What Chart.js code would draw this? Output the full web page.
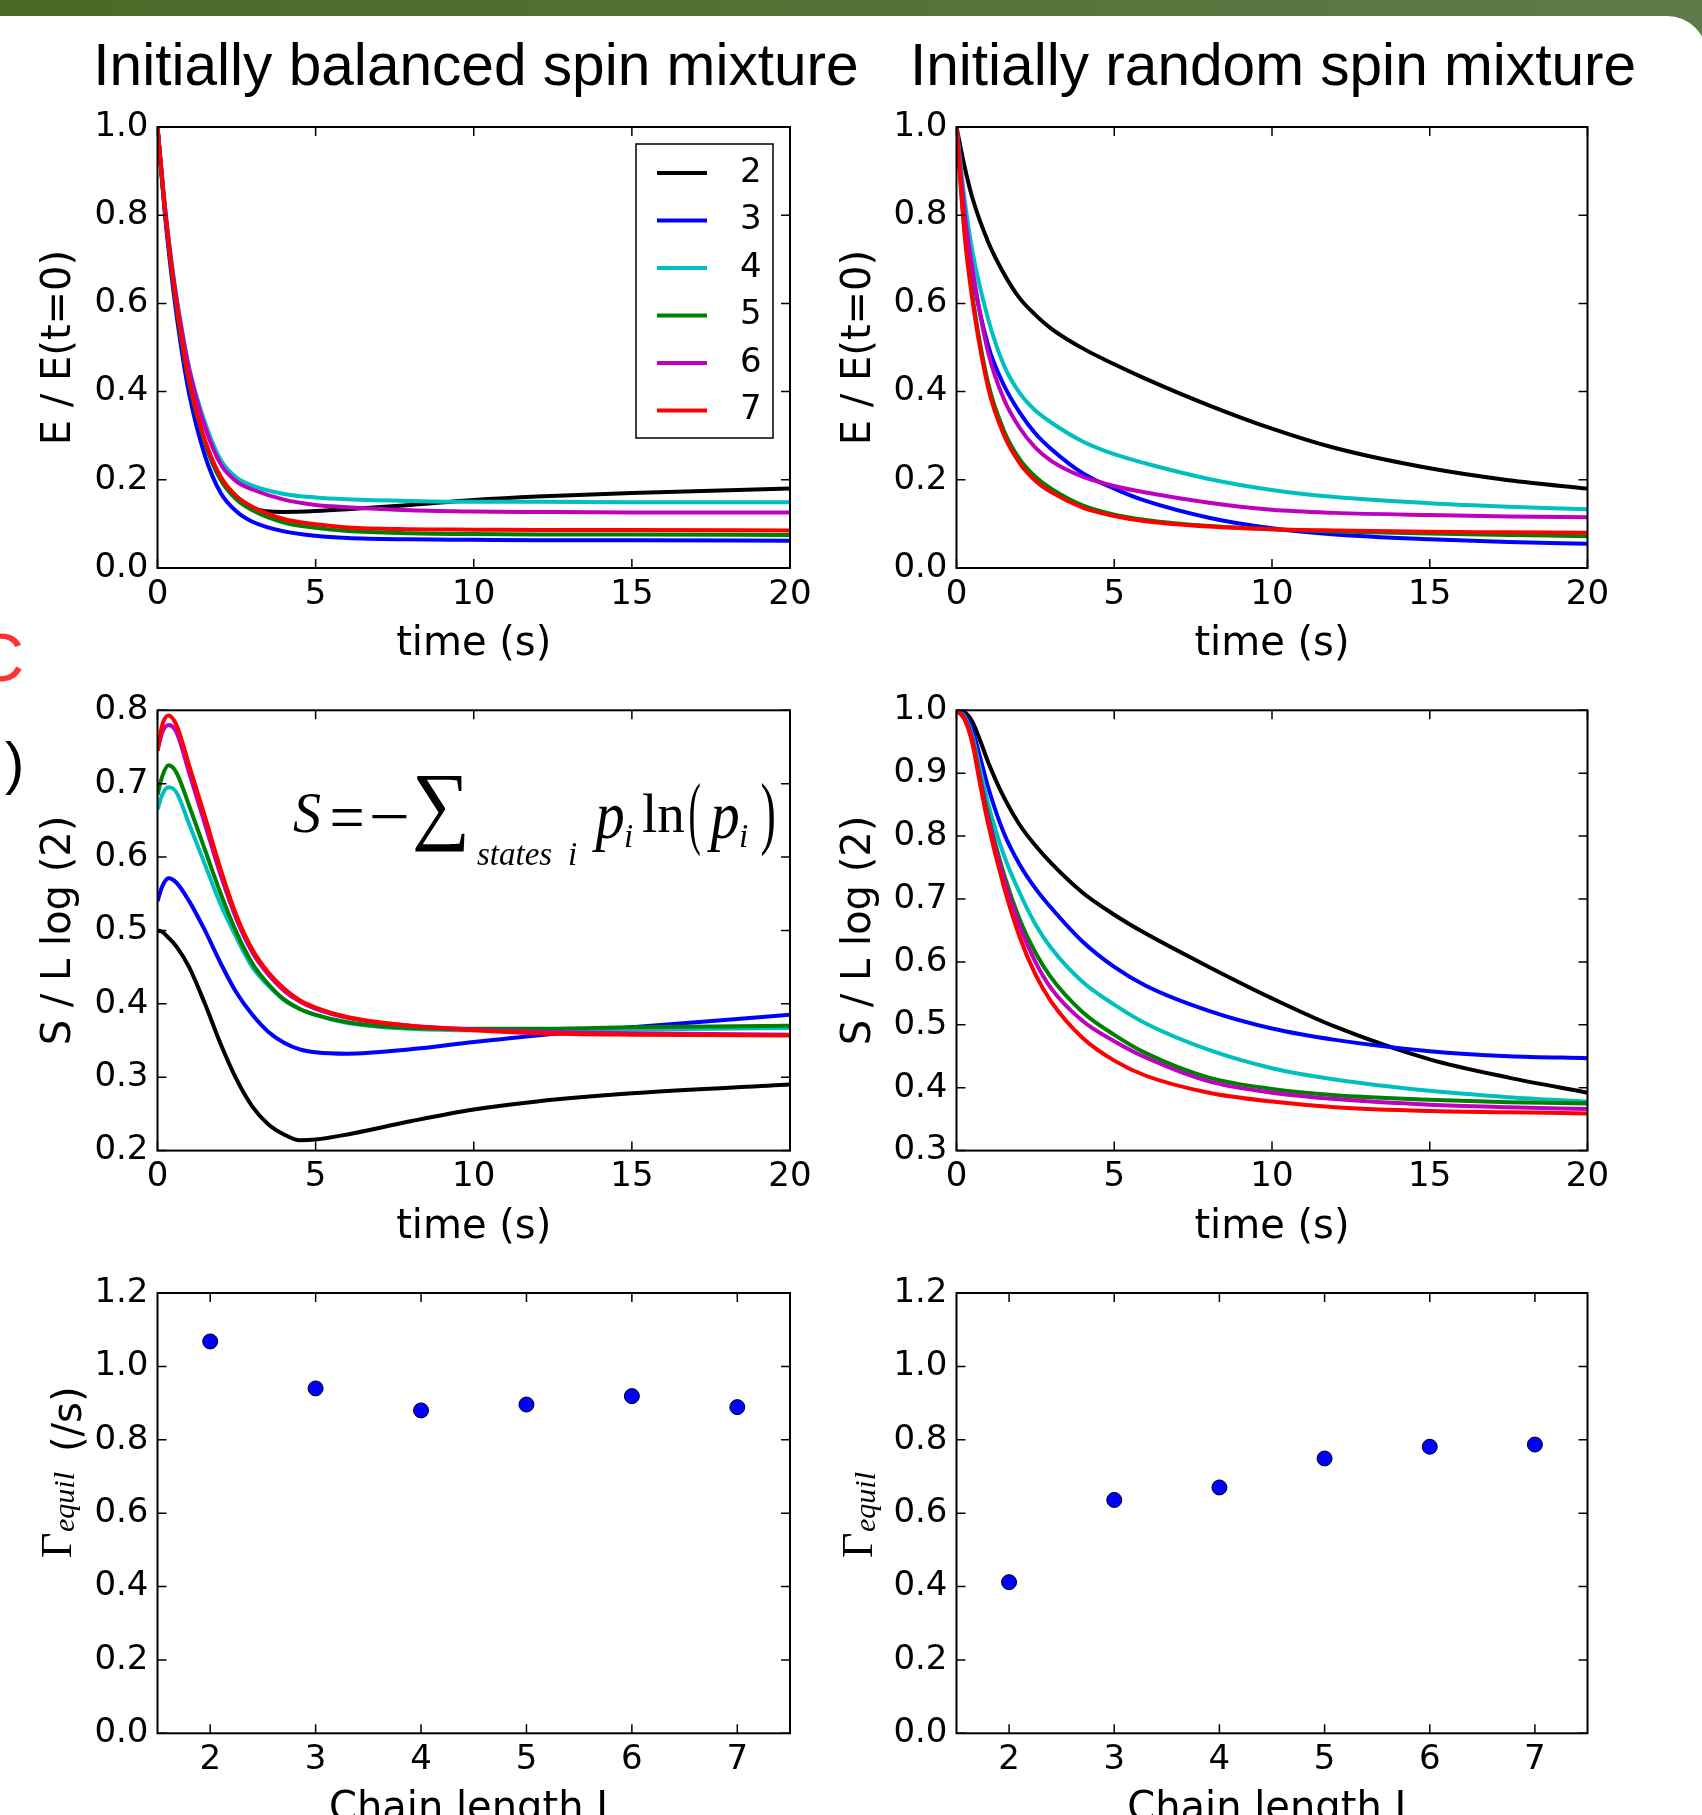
<!DOCTYPE html>
<html>
<head>
<meta charset="utf-8">
<script src="https://cdn.jsdelivr.net/npm/chart.js@4.4.1/dist/chart.umd.min.js"></script>
<style>
  html, body { margin: 0; padding: 0; width: 1702px; height: 1815px; overflow: hidden; }
  body { position: relative; background: linear-gradient(to right, #486a26, #5f7b49); }
  #sheet { position: absolute; left: 0; top: 16px; width: 1707px; height: 1860px; background: #fff; border-top-right-radius: 40px; }
  canvas { position: absolute; }
  .title { position: absolute; top: 36px; width: 800px; text-align: center; font: 58.6px/58px 'Liberation Sans', Arial, sans-serif; color: #000; white-space: nowrap; }
  .edge { position: absolute; font-family: 'Liberation Sans', Arial, sans-serif; white-space: nowrap; }
</style>
</head>
<body>
<div id="sheet"></div>
<div class="title" style="left:76px">Initially balanced spin mixture</div>
<div class="title" style="left:873px">Initially random spin mixture</div>
<div class="edge" style="left:-25px;top:623px;font-size:68px;line-height:68px;color:#ff3333">C</div>
<div class="edge" style="left:5px;top:734px;font-size:58px;line-height:58px;color:#000">)</div>

<canvas id="energyBalanced" width="820" height="584" style="left:0;top:96px"></canvas>
<canvas id="energyRandom" width="882" height="584" style="left:820px;top:96px"></canvas>
<canvas id="entropyBalanced" width="820" height="580" style="left:0;top:680px"></canvas>
<canvas id="entropyRandom" width="882" height="580" style="left:820px;top:680px"></canvas>
<canvas id="rateBalanced" width="820" height="600" style="left:0;top:1262px"></canvas>
<canvas id="rateRandom" width="882" height="600" style="left:820px;top:1262px"></canvas>

<script>
Chart.defaults.font.family = "'DejaVu Sans', sans-serif";
Chart.defaults.color = '#000';

const seriesLabels = ['2', '3', '4', '5', '6', '7'];
const seriesColors = ['#000000', '#0000ff', '#00bfbf', '#008000', '#bf00bf', '#ff0000'];

const timeTicks = [0, 5, 10, 15, 20];
const energyTicks = [0, 0.2, 0.4, 0.6, 0.8, 1.0];
const entropyBalancedTicks = [0.2, 0.3, 0.4, 0.5, 0.6, 0.7, 0.8];
const entropyRandomTicks = [0.3, 0.4, 0.5, 0.6, 0.7, 0.8, 0.9, 1.0];
const chainTicks = [2, 3, 4, 5, 6, 7];
const rateTicks = [0, 0.2, 0.4, 0.6, 0.8, 1.0, 1.2];

// energy, balanced start
const timeBalE = [0, 0.25, 0.5, 0.75, 1, 1.5, 2, 2.5, 3, 4, 5, 6, 8, 10, 12, 15, 20];
const balE2 = [1, 0.80, 0.645, 0.52, 0.42, 0.285, 0.2, 0.158, 0.136, 0.127, 0.129, 0.133, 0.143, 0.154, 0.162, 0.17, 0.18];
const balE3 = [1, 0.79, 0.63, 0.5, 0.395, 0.255, 0.17, 0.128, 0.105, 0.083, 0.073, 0.068, 0.065, 0.064, 0.063, 0.063, 0.062];
const balE4 = [1, 0.81, 0.665, 0.55, 0.455, 0.33, 0.245, 0.205, 0.187, 0.168, 0.16, 0.156, 0.152, 0.15, 0.15, 0.149, 0.149];
const balE5 = [1, 0.80, 0.645, 0.52, 0.42, 0.285, 0.2, 0.155, 0.131, 0.103, 0.091, 0.084, 0.079, 0.077, 0.076, 0.076, 0.075];
const balE6 = [1, 0.81, 0.66, 0.545, 0.45, 0.32, 0.235, 0.196, 0.178, 0.155, 0.143, 0.138, 0.131, 0.128, 0.127, 0.126, 0.126];
const balE7 = [1, 0.80, 0.65, 0.525, 0.425, 0.29, 0.207, 0.163, 0.139, 0.111, 0.099, 0.092, 0.088, 0.087, 0.086, 0.086, 0.085];

// energy, random start
const timeRandE = [0, 0.25, 0.5, 1, 1.5, 2, 2.5, 3, 4, 5, 6, 8, 10, 12, 15, 17.5, 20];
const randE2 = [1, 0.912, 0.84, 0.74, 0.668, 0.612, 0.574, 0.543, 0.498, 0.462, 0.429, 0.369, 0.316, 0.272, 0.226, 0.199, 0.18];
const randE3 = [1, 0.8, 0.67, 0.505, 0.415, 0.353, 0.305, 0.27, 0.215, 0.18, 0.152, 0.114, 0.09, 0.076, 0.065, 0.059, 0.055];
const randE4 = [1, 0.84, 0.72, 0.565, 0.46, 0.397, 0.357, 0.33, 0.287, 0.258, 0.237, 0.202, 0.177, 0.161, 0.147, 0.139, 0.133];
const randE5 = [1, 0.77, 0.62, 0.42, 0.312, 0.247, 0.207, 0.18, 0.142, 0.121, 0.109, 0.095, 0.088, 0.083, 0.078, 0.075, 0.072];
const randE6 = [1, 0.81, 0.68, 0.49, 0.383, 0.318, 0.273, 0.243, 0.207, 0.186, 0.171, 0.148, 0.132, 0.125, 0.12, 0.117, 0.115];
const randE7 = [1, 0.76, 0.61, 0.41, 0.302, 0.238, 0.198, 0.172, 0.137, 0.118, 0.106, 0.094, 0.088, 0.085, 0.082, 0.081, 0.08];

// entropy, balanced start
const timeBalS = [0, 0.15, 0.35, 0.6, 1, 1.5, 2, 2.5, 3, 3.5, 4, 4.5, 5, 6, 8, 10, 12, 15, 20];
const balS2 = [0.5, 0.498, 0.49, 0.478, 0.45, 0.40, 0.345, 0.297, 0.26, 0.236, 0.222, 0.214, 0.215, 0.222, 0.24, 0.256, 0.267, 0.278, 0.29];
const balS3 = [0.54, 0.56, 0.571, 0.565, 0.54, 0.5, 0.455, 0.415, 0.385, 0.362, 0.347, 0.338, 0.334, 0.332, 0.338, 0.348, 0.357, 0.368, 0.385];
const balS4 = [0.665, 0.685, 0.695, 0.688, 0.645, 0.59, 0.535, 0.49, 0.45, 0.425, 0.405, 0.393, 0.385, 0.374, 0.366, 0.364, 0.364, 0.365, 0.367];
const balS5 = [0.685, 0.71, 0.725, 0.715, 0.67, 0.61, 0.55, 0.497, 0.455, 0.427, 0.406, 0.393, 0.385, 0.375, 0.367, 0.366, 0.366, 0.368, 0.37];
const balS6 = [0.745, 0.77, 0.78, 0.77, 0.715, 0.645, 0.575, 0.515, 0.47, 0.44, 0.418, 0.403, 0.393, 0.381, 0.37, 0.365, 0.362, 0.36, 0.358];
const balS7 = [0.745, 0.78, 0.793, 0.78, 0.725, 0.655, 0.583, 0.52, 0.474, 0.443, 0.421, 0.405, 0.395, 0.382, 0.37, 0.364, 0.36, 0.358, 0.357];

// entropy, random start
const timeRandS = [0, 0.25, 0.5, 0.75, 1, 1.5, 2, 2.5, 3, 4, 5, 6, 8, 10, 12, 15, 17.5, 20];
const randS2 = [1, 0.997, 0.982, 0.952, 0.918, 0.862, 0.818, 0.785, 0.757, 0.71, 0.675, 0.645, 0.592, 0.542, 0.497, 0.445, 0.416, 0.392];
const randS3 = [1, 0.993, 0.97, 0.925, 0.878, 0.805, 0.755, 0.717, 0.686, 0.632, 0.592, 0.562, 0.522, 0.494, 0.476, 0.458, 0.45, 0.447];
const randS4 = [1, 0.99, 0.96, 0.905, 0.852, 0.77, 0.71, 0.66, 0.622, 0.568, 0.532, 0.502, 0.46, 0.431, 0.413, 0.395, 0.385, 0.378];
const randS5 = [1, 0.988, 0.955, 0.893, 0.834, 0.74, 0.668, 0.615, 0.575, 0.52, 0.484, 0.455, 0.416, 0.398, 0.388, 0.381, 0.377, 0.375];
const randS6 = [1, 0.987, 0.952, 0.888, 0.828, 0.732, 0.657, 0.6, 0.558, 0.506, 0.474, 0.448, 0.41, 0.392, 0.382, 0.373, 0.369, 0.366];
const randS7 = [1, 0.986, 0.948, 0.882, 0.82, 0.72, 0.64, 0.58, 0.537, 0.479, 0.443, 0.419, 0.392, 0.378, 0.369, 0.363, 0.361, 0.359];

// equilibration rate vs chain length
const chainLengths = [2, 3, 4, 5, 6, 7];
const rateBalanced = [1.068, 0.94, 0.88, 0.896, 0.919, 0.889];
const rateRandom = [0.412, 0.636, 0.670, 0.749, 0.781, 0.787];

function lineSets(times, seriesList) {
    return seriesList.map((vals, i) => ({
        label: seriesLabels[i],
        data: times.map((t, k) => ({ x: t, y: vals[k] })),
        borderColor: seriesColors[i],
        backgroundColor: seriesColors[i],
        borderWidth: 4,
        pointRadius: 0,
        cubicInterpolationMode: 'monotone',
        fill: false,
        order: seriesList.length - i
    }));
}

function dotSet(values) {
    return [{
        data: chainLengths.map((c, k) => ({ x: c, y: values[k] })),
        backgroundColor: '#0000ff',
        borderColor: '#000000',
        borderWidth: 1,
        pointRadius: 7.5
    }];
}

const framePlugin = {
    id: 'frame',
    afterDatasetsDraw(chart) {
        const { ctx, chartArea: a, scales } = chart;
        ctx.save();
        ctx.strokeStyle = '#000';
        ctx.lineWidth = 1.5;
        ctx.beginPath();
        scales.x.ticks.forEach(t => {
            const px = scales.x.getPixelForValue(t.value);
            ctx.moveTo(px, a.bottom); ctx.lineTo(px, a.bottom - 9);
            ctx.moveTo(px, a.top); ctx.lineTo(px, a.top + 9);
        });
        scales.y.ticks.forEach(t => {
            const py = scales.y.getPixelForValue(t.value);
            ctx.moveTo(a.left, py); ctx.lineTo(a.left + 9, py);
            ctx.moveTo(a.right, py); ctx.lineTo(a.right - 9, py);
        });
        ctx.stroke();
        ctx.lineWidth = 2;
        ctx.strokeRect(a.left, a.top, a.right - a.left, a.bottom - a.top);
        ctx.restore();
    }
};

const legendPlugin = {
    id: 'boxLegend',
    afterDraw(chart) {
        const { ctx, chartArea: a } = chart;
        const x0 = a.right - 154, y0 = a.top + 17;
        ctx.save();
        ctx.fillStyle = '#fff';
        ctx.fillRect(x0, y0, 137, 294);
        ctx.strokeStyle = '#000';
        ctx.lineWidth = 1.5;
        ctx.strokeRect(x0, y0, 137, 294);
        ctx.font = "34px 'DejaVu Sans'";
        ctx.textBaseline = 'middle';
        ctx.textAlign = 'left';
        chart.data.datasets.forEach((ds, i) => {
            const cy = y0 + 29 + i * 47.5;
            ctx.strokeStyle = ds.borderColor;
            ctx.lineWidth = 4;
            ctx.beginPath();
            ctx.moveTo(x0 + 21, cy);
            ctx.lineTo(x0 + 71, cy);
            ctx.stroke();
            ctx.fillStyle = '#000';
            ctx.fillText(ds.label, x0 + 104, cy);
        });
        ctx.restore();
    }
};

const serif = "'Liberation Serif', 'Times New Roman', serif";

// stretch a glyph so its ink fills the given box
function fitGlyph(ctx, ch, left, top, right, bottom, italic) {
    ctx.font = (italic ? 'italic ' : '') + '100px ' + serif;
    const m = ctx.measureText(ch);
    const w = m.actualBoundingBoxLeft + m.actualBoundingBoxRight;
    const h = m.actualBoundingBoxAscent + m.actualBoundingBoxDescent;
    ctx.save();
    ctx.translate(left, top);
    ctx.scale((right - left) / w, (bottom - top) / h);
    ctx.fillText(ch, m.actualBoundingBoxLeft, m.actualBoundingBoxAscent);
    ctx.restore();
}

const formulaPlugin = {
    id: 'formula',
    afterDraw(chart) {
        const ctx = chart.ctx;
        const off = 680;
        ctx.save();
        ctx.fillStyle = '#000';
        ctx.textAlign = 'left';
        ctx.textBaseline = 'alphabetic';
        const put = (txt, inkLeft, y, size, italic) => {
            ctx.font = (italic ? 'italic ' : '') + size + 'px ' + serif;
            const m = ctx.measureText(txt);
            ctx.fillText(txt, inkLeft + m.actualBoundingBoxLeft, y - off);
        };
        put('S', 293, 832, 56, true);
        fitGlyph(ctx, '=', 332, 809 - off, 362, 826 - off);
        fitGlyph(ctx, '\u2212', 372, 815 - off, 407, 819 - off);
        fitGlyph(ctx, '\u2211', 415, 775 - off, 465, 852 - off);
        put('states', 477, 865, 33, true);
        put('i', 569, 865, 33, true);
        fitGlyph(ctx, 'p', 592, 806 - off, 623, 852 - off, true);
        put('i', 625, 847, 33, true);
        put('ln', 643, 832, 55, false);
        fitGlyph(ctx, '(', 690, 783 - off, 700, 857 - off);
        fitGlyph(ctx, 'p', 707, 806 - off, 738, 852 - off, true);
        put('i', 740, 847, 33, true);
        fitGlyph(ctx, ')', 762, 783 - off, 774, 857 - off);
        ctx.restore();
    }
};

function gammaLabel(id, parts) {
    return {
        id,
        afterDraw(chart) {
            const ctx = chart.ctx;
            ctx.save();
            ctx.fillStyle = '#000';
            ctx.textAlign = 'left';
            ctx.textBaseline = 'alphabetic';
            parts.forEach(p => {
                ctx.save();
                ctx.translate(p.x, p.y);
                ctx.rotate(-Math.PI / 2);
                ctx.font = p.font;
                ctx.fillText(p.text, 0, 0);
                ctx.restore();
            });
            ctx.restore();
        }
    };
}

function buildChart(canvasId, cfg) {
    return new Chart(document.getElementById(canvasId), {
        type: cfg.type,
        data: { datasets: cfg.datasets },
        options: {
            responsive: false,
            animation: false,
            devicePixelRatio: 1,
            layout: { padding: { top: cfg.padTop, right: cfg.padRight, left: 0, bottom: 0 } },
            plugins: { legend: { display: false }, tooltip: { enabled: false } },
            scales: {
                x: {
                    type: 'linear',
                    min: cfg.xMin,
                    max: cfg.xMax,
                    grid: { display: false, drawTicks: false },
                    border: { display: false },
                    afterBuildTicks: s => { s.ticks = cfg.xTicks.map(v => ({ value: v })); },
                    afterFit: s => { s.height = cfg.xAxisHeight; },
                    ticks: {
                        autoSkip: false, maxRotation: 0, padding: 6.5, color: '#000',
                        font: { size: 34 },
                        callback: v => String(v)
                    },
                    title: {
                        display: true, text: cfg.xTitle, color: '#000',
                        font: { size: 40 },
                        padding: { top: 0, bottom: cfg.xTitlePad }
                    }
                },
                y: {
                    type: 'linear',
                    min: cfg.yTicks[0],
                    max: cfg.yTicks[cfg.yTicks.length - 1],
                    grid: { display: false, drawTicks: false },
                    border: { display: false },
                    afterBuildTicks: s => { s.ticks = cfg.yTicks.map(v => ({ value: v })); },
                    afterFit: s => { s.width = cfg.yAxisWidth; },
                    ticks: {
                        autoSkip: false, padding: 9, color: '#000',
                        font: { size: 34 },
                        callback: v => v.toFixed(1)
                    },
                    title: {
                        display: !!cfg.yTitle, text: cfg.yTitle || '', color: '#000',
                        font: { size: 40 },
                        padding: { top: cfg.yTitlePad || 0, bottom: 0 }
                    }
                }
            }
        },
        plugins: [framePlugin].concat(cfg.plugins || [])
    });
}

const leftCol = { yAxisWidth: 157.5, padRight: 30, yTitlePad: 36 };
const rightCol = { yAxisWidth: 136.5, padRight: 114.5, yTitlePad: 15.4 };
const row1 = { padTop: 31, xAxisHeight: 112, xTitlePad: 11.5 };
const row2 = { padTop: 30.3, xAxisHeight: 109.4, xTitlePad: 8.5 };
const row3 = { padTop: 31, xAxisHeight: 128.7, xTitlePad: 28.5 };

const timeAxis = { xMin: 0, xMax: 20, xTicks: timeTicks, xTitle: 'time (s)' };
const chainAxis = { xMin: 1.5, xMax: 7.5, xTicks: chainTicks, xTitle: 'Chain length L' };

buildChart('energyBalanced', Object.assign({}, leftCol, row1, timeAxis, {
    type: 'line', yTicks: energyTicks, yTitle: 'E / E(t=0)',
    datasets: lineSets(timeBalE, [balE2, balE3, balE4, balE5, balE6, balE7]),
    plugins: [legendPlugin]
}));

buildChart('energyRandom', Object.assign({}, rightCol, row1, timeAxis, {
    type: 'line', yTicks: energyTicks, yTitle: 'E / E(t=0)',
    datasets: lineSets(timeRandE, [randE2, randE3, randE4, randE5, randE6, randE7])
}));

buildChart('entropyBalanced', Object.assign({}, leftCol, row2, timeAxis, {
    type: 'line', yTicks: entropyBalancedTicks, yTitle: 'S / L log (2)',
    datasets: lineSets(timeBalS, [balS2, balS3, balS4, balS5, balS6, balS7]),
    plugins: [formulaPlugin]
}));

buildChart('entropyRandom', Object.assign({}, rightCol, row2, timeAxis, {
    type: 'line', yTicks: entropyRandomTicks, yTitle: 'S / L log (2)',
    datasets: lineSets(timeRandS, [randS2, randS3, randS4, randS5, randS6, randS7])
}));

buildChart('rateBalanced', Object.assign({}, leftCol, row3, chainAxis, {
    type: 'scatter', yTicks: rateTicks,
    datasets: dotSet(rateBalanced),
    plugins: [gammaLabel('gammaLeft', [
        { text: '\u0393', font: '44px ' + serif, x: 71, y: 296 },
        { text: 'equil', font: 'italic 30px ' + serif, x: 73.5, y: 270 },
        { text: '(/s)', font: "40px 'DejaVu Sans'", x: 81, y: 190 }
    ])]
}));

buildChart('rateRandom', Object.assign({}, rightCol, row3, chainAxis, {
    type: 'scatter', yTicks: rateTicks,
    datasets: dotSet(rateRandom),
    plugins: [gammaLabel('gammaRight', [
        { text: '\u0393', font: '44px ' + serif, x: 52, y: 296 },
        { text: 'equil', font: 'italic 30px ' + serif, x: 54.5, y: 270 }
    ])]
}));
</script>
</body>
</html>
